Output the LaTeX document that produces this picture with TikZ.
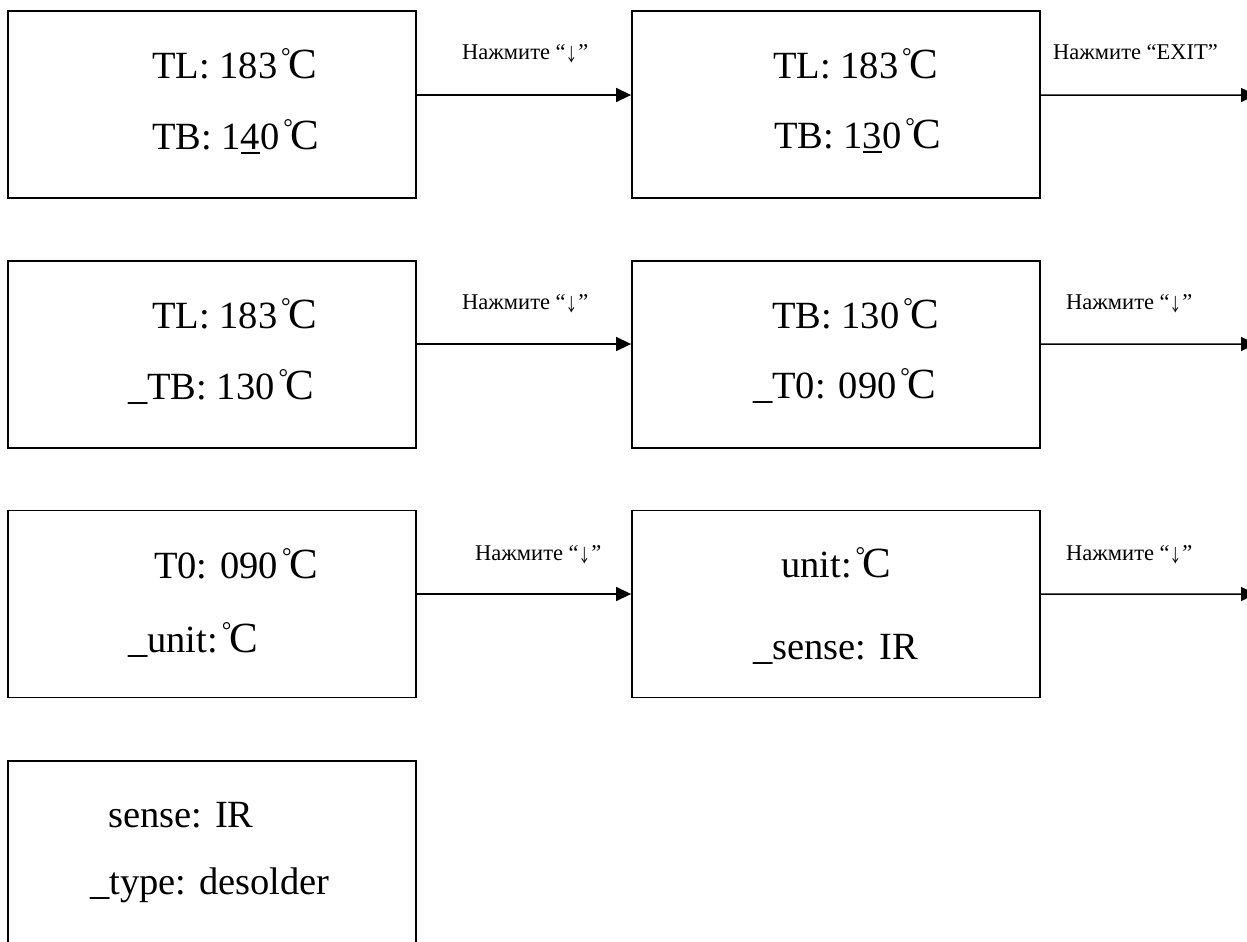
\documentclass[tikz,border=0pt]{standalone}
\usepackage{fontspec}
\setmainfont{Liberation Serif}
\newfontfamily\cjk{Noto Sans CJK SC}
\usetikzlibrary{arrows.meta}

% degree Celsius sign built from a small raised ring and a large C
\newcommand\cels{\kern0.10em\raisebox{0.36em}{\fontsize{24bp}{24bp}\selectfont °}\kern-0.06em{\fontsize{43bp}{43bp}\selectfont C}}
% underlined digit (cursor position)
\newcommand\cur[1]{\setbox0\hbox{#1}\rlap{\rule[-5bp]{\wd0}{1.8bp}}\box0\relax}
% tall thin down arrow used in the key names
\newcommand\down{\raisebox{-0.12em}{\scalebox{0.7}[1]{\cjk\fontsize{18bp}{18bp}\selectfont ↓}}}

\tikzset{
  screen/.style={draw, line width=1.8bp, rectangle, minimum width=408bp, minimum height=187bp, inner sep=0pt},
  line/.style={anchor=base west, inner sep=0pt, font=\fontsize{38.5bp}{44bp}\selectfont},
  keylabel/.style={anchor=base west, inner sep=0pt, font=\fontsize{22.5bp}{26bp}\selectfont},
  flow/.style={line width=1.5bp, -{Triangle[length=15bp,width=14bp]}}
}

\begin{document}
\begin{tikzpicture}[x=1bp,y=-1bp]
\useasboundingbox (0,0) rectangle (1247,942);

% screens
\node[screen] (s1) at (212,104.5) {};
\node[screen] (s2) at (836,104.5) {};
\node[screen] (s3) at (212,354.5) {};
\node[screen] (s4) at (836,354.5) {};
\node[screen] (s5) at (212,604) {};
\node[screen] (s6) at (836,604) {};
\node[screen] (s7) at (212,854.5) {};

% screen texts
\node[line] (t1a) at (152,78) {TL: 183\cels};
\node[line] (t1b) at (152,149) {TB: 1\cur{4}0\cels};
\node[line] (t2a) at (773,78) {TL: 183\cels};
\node[line] (t2b) at (774,148) {TB: 1\cur{3}0\cels};
\node[line] (t3a) at (152,328) {TL: 183\cels};
\node[line] (t3b) at (128,399) {\_TB: 130\cels};
\node[line] (t4a) at (772,328) {TB: 130\cels};
\node[line] (t4b) at (753,398) {\_T0: 090\cels};
\node[line] (t5a) at (154,578) {T0: 090\cels};
\node[line] (t5b) at (128,652) {\_unit:\cels};
\node[line] (t6a) at (781,577) {unit:\cels};
\node[line] (t6b) at (753,659) {\_sense: IR};
\node[line] (t7a) at (108,827) {sense: IR};
\node[line] (t7b) at (90,894) {\_type: desolder};

% free ends of the outgoing arrows
\coordinate (o1) at (1256,95);
\coordinate (o2) at (1256,344);
\coordinate (o3) at (1256,594);

% transitions
\draw[flow] ([yshift=9.5bp]s1.east) -- ([yshift=9.5bp]s2.west);
\draw[flow] ([yshift=9.5bp]s2.east) -- (o1);
\draw[flow] ([yshift=10.5bp]s3.east) -- ([yshift=10.5bp]s4.west);
\draw[flow] ([yshift=10.5bp]s4.east) -- (o2);
\draw[flow] ([yshift=10bp]s5.east) -- ([yshift=10bp]s6.west);
\draw[flow] ([yshift=10bp]s6.east) -- (o3);

% key labels
\node[keylabel] (k1) at (462,59) {Нажмите “\down”};
\node[keylabel] (k2) at (1053,59) {Нажмите “EXIT”};
\node[keylabel] (k3) at (462,309) {Нажмите “\down”};
\node[keylabel] (k4) at (1066,309) {Нажмите “\down”};
\node[keylabel] (k5) at (475,560) {Нажмите “\down”};
\node[keylabel] (k6) at (1066,560) {Нажмите “\down”};
\end{tikzpicture}
\end{document}
